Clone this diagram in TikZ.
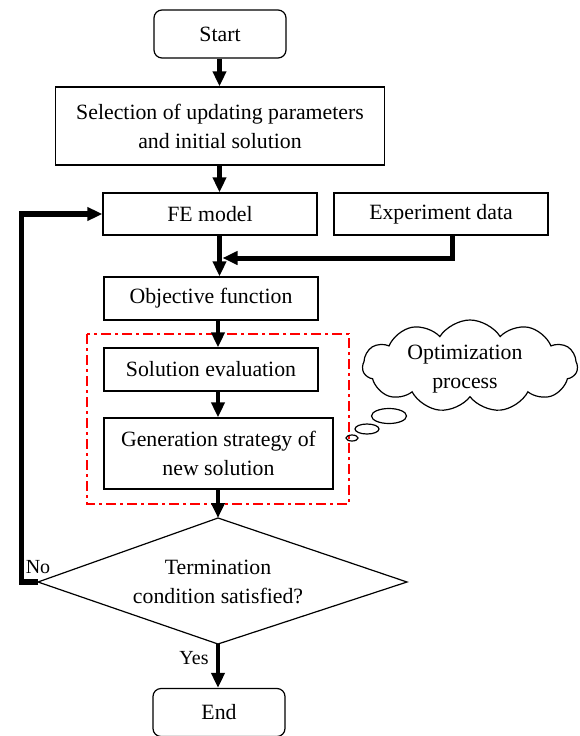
\documentclass[tikz,border=0pt]{standalone}
\usepackage{fontspec}
\setmainfont{Liberation Serif}
\usetikzlibrary{arrows.meta,shapes.geometric,shapes.symbols}
\begin{document}
\begin{tikzpicture}[x=1pt,y=-1pt,
  every node/.style={font=\fontsize{21.8}{29}\selectfont},
  small/.style={font=\fontsize{20}{28}\selectfont},
  box/.style={draw,line width=1.2pt,rectangle,inner sep=0pt,align=center},
  rbox/.style={box,rounded corners=8pt},
  flow/.style={line width=4.5pt,-{Triangle[width=13pt,length=15pt]}},
  thick line/.style={line width=5pt},
  bubble/.style={draw,line width=1.2pt,ellipse,inner sep=0pt}
]
\useasboundingbox (0,0) rectangle (579,736);
\clip (0,0) rectangle (579,736);
% nodes
\node[rbox,minimum width=132pt,minimum height=48pt] (start) at (220,34) {Start};
\node[box,minimum width=329pt,minimum height=78pt] (sel) at (220,126) {Selection of updating parameters\\and initial solution};
\node[box,minimum width=214pt,minimum height=42pt] (fe) at (210,214) {FE model};
\node[box,minimum width=214pt,minimum height=42pt] (exp) at (441,214) {Experiment data};
\node[box,minimum width=214pt,minimum height=43pt] (obj) at (211,298.5) {Objective function};
\node[box,minimum width=214pt,minimum height=43pt] (sol) at (211,369.5) {Solution evaluation};
\node[box,minimum width=229pt,minimum height=71pt] (gen) at (218.5,453.5) {Generation strategy of\\new solution};
\draw[red,line width=1.5pt,dash pattern=on 10pt off 4pt on 3pt off 4pt] (87,334) rectangle (349,504);
% diamond
\coordinate (dtop) at (218,518);
\coordinate (dright) at (407,582);
\coordinate (dbot) at (218,644);
\coordinate (dleft) at (38,582);
\draw[line width=1.2pt] (dtop) -- (dright) -- (dbot) -- (dleft) -- cycle;
\node[align=center] (dia) at (218,582) {Termination\\condition satisfied?};
\node[rbox,minimum width=132pt,minimum height=48pt] (end) at (219,712.5) {End};
% cloud
\node[draw,line width=1.2pt,cloud,cloud puffs=11,cloud puff arc=115,aspect=2.3,minimum width=215pt,minimum height=92pt,inner sep=0pt] (cloud) at (470,366) {};
\node[align=center] (ctext) at (465,369) {Optimization\\process};
\node[bubble,minimum width=35pt,minimum height=15pt] (b1) at (389,416) {};
\node[bubble,minimum width=24pt,minimum height=10pt] (b2) at (367,429) {};
\node[bubble,minimum width=12pt,minimum height=6pt] (b3) at (352,438) {};
% connectors
\coordinate (c1) at (219.5,0);
\coordinate (c2) at (218,0);
\draw[flow] (c1 |- start.south) -- (c1 |- sel.north);
\draw[flow] (c1 |- sel.south) -- (c1 |- fe.north);
\draw[flow] (c1 |- fe.south) -- (c1 |- obj.north);
\coordinate (merge) at (222.5,258);
\draw[thick line,-{Triangle[width=13pt,length=15pt]}] ([xshift=11pt]exp.south) |- (merge);
\draw[flow] (c2 |- obj.south) -- (c2 |- sol.north);
\draw[flow] (c2 |- sol.south) -- (c2 |- gen.north);
\draw[flow] (c2 |- gen.south) -- (dtop);
\draw[flow] (dbot) -- (c2 |- end.north);
\coordinate (lc) at (21.5,582);
\draw[line width=5.5pt,-{Triangle[width=13pt,length=15pt]}] (dleft) -- (lc) |- (fe.west);
\node[small] (no) at (38,567) {No};
\node[small] (yes) at (194,658) {Yes};
\end{tikzpicture}
\end{document}
